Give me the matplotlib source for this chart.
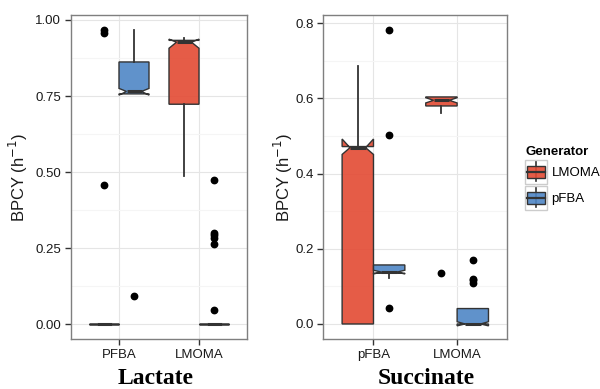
import matplotlib
matplotlib.use("Agg")
import matplotlib.pyplot as plt
import matplotlib.ticker as ticker
from matplotlib.colors import to_rgba
from matplotlib.patches import Rectangle, Patch
from matplotlib.lines import Line2D
from matplotlib.legend_handler import HandlerBase

plt.rcParams['font.family'] = ['Liberation Sans', 'DejaVu Sans']

generators = ['LMOMA', 'pFBA']
gen_colors = {'LMOMA': '#E34A33', 'pFBA': '#4F86C6'}

# box rows: [whislo, q1, med, q3, whishi, cilo, cihi], one row per x category
lac_categories = ['PFBA', 'LMOMA']
lac_lmoma_box = [[0.0, 0.0, 0.0, 0.0, 0.0, 0.0, 0.0],
                 [0.487, 0.723, 0.927, 0.933, 0.940, 0.907, 0.937]]
lac_lmoma_fliers = [[0.967, 0.958, 0.457], []]
lac_pfba_box = [[0.757, 0.757, 0.765, 0.862, 0.967, 0.753, 0.775],
                [0.0, 0.0, 0.0, 0.0, 0.0, 0.0, 0.0]]
lac_pfba_fliers = [[0.091], [0.474, 0.300, 0.293, 0.282, 0.263, 0.046]]

suc_categories = ['pFBA', 'LMOMA']
suc_lmoma_box = [[0.0, 0.0, 0.469, 0.472, 0.687, 0.451, 0.492],
                 [0.562, 0.580, 0.595, 0.604, 0.604, 0.588, 0.602]]
suc_lmoma_fliers = [[], [0.135]]
suc_pfba_box = [[0.121, 0.135, 0.138, 0.157, 0.157, 0.133, 0.143],
                [0.0, 0.0, 0.0, 0.041, 0.041, -0.005, 0.006]]
suc_pfba_fliers = [[0.782, 0.503, 0.043], [0.170, 0.120, 0.117, 0.109]]


def make_stats(rows, fliers):
    out = []
    for r, f in zip(rows, fliers):
        out.append(dict(whislo=r[0], q1=r[1], med=r[2], q3=r[3], whishi=r[4],
                        cilo=r[5], cihi=r[6], fliers=f))
    return out


def draw_panel(ax, categories, series, ylim, yticks, yminor, fmt):
    dodge = 0.375
    for i, (gen, rows, fl) in enumerate(series):
        offset = -dodge / 2 if i == 0 else dodge / 2
        pos = [k + 1 + offset for k in range(len(categories))]
        ax.bxp(make_stats(rows, fl), positions=pos, widths=dodge,
               patch_artist=True, shownotches=True, showcaps=False,
               boxprops=dict(facecolor=to_rgba(gen_colors[gen], 0.9),
                             edgecolor='#333333', linewidth=1.0),
               medianprops=dict(color='#333333', linewidth=2.2,
                                solid_capstyle='butt'),
               whiskerprops=dict(color='#333333', linewidth=1.3),
               flierprops=dict(marker='o', markerfacecolor='black',
                               markeredgecolor='black', markersize=4.6),
               manage_ticks=False)
    ax.set_xlim(0.4, 2.6)
    ax.set_ylim(*ylim)
    ax.set_xticks([1, 2])
    ax.set_xticklabels(categories)
    ax.set_yticks(yticks)
    ax.set_yticks(yminor, minor=True)
    ax.yaxis.set_major_formatter(ticker.FormatStrFormatter(fmt))
    ax.set_axisbelow(True)
    ax.grid(which='major', color='#E5E5E5', linewidth=0.8)
    ax.grid(which='minor', axis='y', color='#F5F5F5', linewidth=0.8)
    ax.tick_params(which='minor', length=0)
    ax.tick_params(which='major', length=4, width=1, color='#333333',
                   labelsize=9.5, labelcolor='#1a1a1a', pad=3)
    for sp in ax.spines.values():
        sp.set_color('#7F7F7F')
        sp.set_linewidth(1)
    ax.set_ylabel('BPCY (h$^{-1}$)', fontsize=12, color='#1a1a1a')


fig = plt.figure(figsize=(6, 3.89), dpi=100)
ax1 = fig.add_axes([71 / 600, 1 - 339 / 389, 176 / 600, 324 / 389])
ax2 = fig.add_axes([323.3 / 600, 1 - 339 / 389, 184 / 600, 324 / 389])

draw_panel(ax1, lac_categories,
           [('LMOMA', lac_lmoma_box, lac_lmoma_fliers),
            ('pFBA', lac_pfba_box, lac_pfba_fliers)],
           (-0.049, 1.0164), [0, 0.25, 0.5, 0.75, 1.0],
           [0.125, 0.375, 0.625, 0.875], '%.2f')
draw_panel(ax2, suc_categories,
           [('LMOMA', suc_lmoma_box, suc_lmoma_fliers),
            ('pFBA', suc_pfba_box, suc_pfba_fliers)],
           (-0.040, 0.822), [0, 0.2, 0.4, 0.6, 0.8],
           [0.1, 0.3, 0.5, 0.7], '%.1f')

ax1.yaxis.set_label_coords(-0.235, 0.5)
ax2.yaxis.set_label_coords(-0.152, 0.5)

fig.text(155.5 / 600, 1 - 384 / 389, 'Lactate', ha='center', va='baseline',
         family='Liberation Serif', weight='bold', fontsize=17)
fig.text(426.5 / 600, 1 - 384 / 389, 'Succinate', ha='center', va='baseline',
         family='Liberation Serif', weight='bold', fontsize=17)


class BoxKeyHandler(HandlerBase):
    def create_artists(self, legend, orig_handle, xdescent, ydescent,
                       width, height, fontsize, trans):
        x0, y0 = -xdescent, -ydescent
        bg = Rectangle((x0, y0), width, height, facecolor='white',
                       edgecolor='#CCCCCC', linewidth=1, transform=trans)
        cx = x0 + width / 2
        wl = Line2D([cx, cx], [y0 + 0.1 * height, y0 + 0.9 * height],
                    color='#333333', linewidth=1.2, transform=trans)
        box = Rectangle((x0 + 0.1 * width, y0 + 0.25 * height), 0.8 * width,
                        0.5 * height,
                        facecolor=to_rgba(orig_handle.get_facecolor(), 0.9),
                        edgecolor='#333333', linewidth=1, transform=trans)
        med = Line2D([x0 + 0.1 * width, x0 + 0.9 * width],
                     [y0 + 0.5 * height] * 2, color='#333333', linewidth=1.6,
                     transform=trans)
        return [bg, wl, box, med]


handles = [Patch(facecolor=gen_colors[g]) for g in generators]
leg = fig.legend(handles, generators, loc='upper left',
                 bbox_to_anchor=(525 / 600, 1 - 146 / 389), frameon=False,
                 title='Generator',
                 title_fontproperties={'weight': 'bold', 'size': 9.5},
                 fontsize=9.5, handlelength=1.65, handleheight=2.4,
                 handletextpad=0.35, labelspacing=0.15, borderpad=0,
                 borderaxespad=0,
                 handler_map={Patch: BoxKeyHandler()})
leg._legend_box.align = 'left'

fig.savefig('out.png', dpi=100)
